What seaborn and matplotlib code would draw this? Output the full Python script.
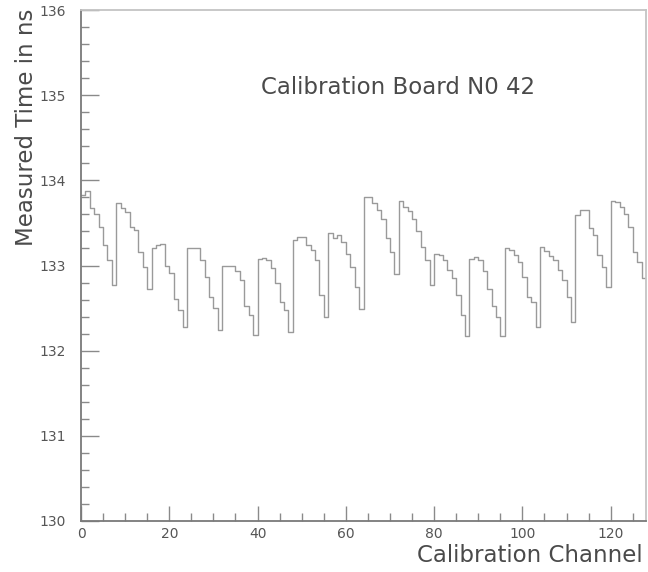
import numpy as np
import pandas as pd
import matplotlib
matplotlib.use("Agg")
import matplotlib.pyplot as plt
import seaborn as sns
from matplotlib.ticker import MultipleLocator

# ---- data ----
channels = list(range(128))
measured_time = [
    133.83, 133.88, 133.67, 133.61, 133.45, 133.24, 133.06, 132.77,
    133.73, 133.67, 133.63, 133.45, 133.42, 133.16, 132.98, 132.72,
    133.21, 133.24, 133.25, 133.00, 132.91, 132.61, 132.48, 132.28,
    133.21, 133.21, 133.20, 133.06, 132.87, 132.63, 132.50, 132.24,
    132.99, 133.00, 133.00, 132.93, 132.83, 132.52, 132.42, 132.18,
    133.08, 133.09, 133.06, 132.97, 132.79, 132.57, 132.48, 132.22,
    133.30, 133.33, 133.33, 133.24, 133.18, 133.06, 132.65, 132.40,
    133.38, 133.32, 133.36, 133.28, 133.14, 132.98, 132.75, 132.49,
    133.80, 133.80, 133.73, 133.65, 133.55, 133.32, 133.16, 132.90,
    133.76, 133.69, 133.64, 133.55, 133.40, 133.22, 133.07, 132.77,
    133.14, 133.12, 133.06, 132.95, 132.85, 132.65, 132.42, 132.17,
    133.08, 133.10, 133.06, 132.93, 132.72, 132.52, 132.40, 132.17,
    133.21, 133.18, 133.12, 133.04, 132.87, 132.63, 132.57, 132.28,
    133.22, 133.17, 133.11, 133.06, 132.95, 132.83, 132.63, 132.34,
    133.59, 133.65, 133.65, 133.44, 133.36, 133.12, 132.98, 132.75,
    133.76, 133.75, 133.69, 133.61, 133.45, 133.16, 133.04, 132.85,
]
x_ticks = [0, 20, 40, 60, 80, 100, 120]
y_ticks = [130, 131, 132, 133, 134, 135, 136]
title_text = "Calibration Board N0 42"
x_label = "Calibration Channel"
y_label = "Measured Time in ns"

df = pd.DataFrame({"channel": channels, "time": measured_time})

sns.set_style("white")
plt.rcParams["font.family"] = ["DejaVu Sans"]

W, H = 648, 572
fig = plt.figure(figsize=(W / 100, H / 100), dpi=100)
ax = fig.add_axes([81 / W, 1 - 521 / H, (646 - 81) / W, (521 - 10) / H])

sns.histplot(data=df, x="channel", weights="time", bins=128, binrange=(0, 128),
             element="step", fill=False, color="#9a9a9a", linewidth=1.0, ax=ax)

ax.set_xlim(0, 128)
ax.set_ylim(130, 136)
ax.set_xticks(x_ticks)
ax.set_yticks(y_ticks)
ax.xaxis.set_minor_locator(MultipleLocator(5))
ax.yaxis.set_minor_locator(MultipleLocator(0.2))
ax.set_xlabel("")
ax.set_ylabel("")

for side in ["left", "bottom"]:
    ax.spines[side].set_color("#7a7a7a")
    ax.spines[side].set_linewidth(1.3)
for side in ["top", "right"]:
    ax.spines[side].set_visible(True)
    ax.spines[side].set_color("#c4c4c4")
    ax.spines[side].set_linewidth(1.3)

ax.tick_params(axis="both", which="both", direction="in", colors="#8a8a8a",
               labelcolor="#555555", top=False, right=False, left=True, bottom=True)
ax.tick_params(axis="x", which="major", length=11, width=1, pad=4, labelsize=10)
ax.tick_params(axis="x", which="minor", length=6, width=1)
ax.tick_params(axis="y", which="major", length=13, width=1, pad=11, labelsize=10)
ax.tick_params(axis="y", which="minor", length=6, width=1)

fig.text(398 / W, 1 - 88 / H, title_text, ha="center", va="center",
         fontsize=16.5, color="#4a4a4a")
fig.text(643 / W, 1 - 556 / H, x_label, ha="right", va="center",
         fontsize=16.5, color="#4a4a4a")
fig.text(27 / W, 1 - 127 / H, y_label, ha="center", va="center", rotation=90,
         fontsize=16.5, color="#4a4a4a")

fig.savefig("out.png", dpi=100, facecolor="white")
